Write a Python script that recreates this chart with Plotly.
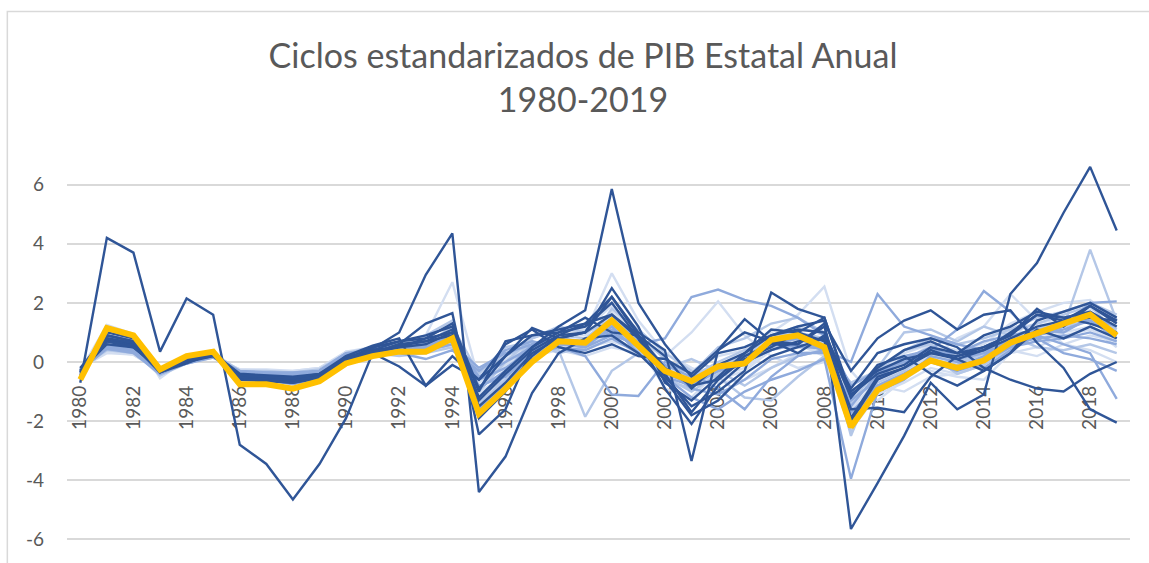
import plotly.graph_objects as go

years = list(range(1980, 2020))
x_tick_labels = [str(y) for y in range(1980, 2020, 2)]
y_tick_vals = [-6, -4, -2, 0, 2, 4, 6]
y_tick_text = ["-6", "-4", "-2", "0", "2", "4", "6"]

# national cycle (thick gold line)
nacional = [-0.6, 1.15, 0.9, -0.25, 0.2, 0.35, -0.75, -0.75, -0.9, -0.65,
            -0.05, 0.2, 0.35, 0.35, 0.8, -1.75, -0.9, 0.0, 0.7, 0.65,
            1.4, 0.55, -0.3, -0.65, -0.15, -0.05, 0.75, 0.9, 0.5, -2.2,
            -0.95, -0.5, 0.05, -0.2, 0.05, 0.65, 1.0, 1.3, 1.6, 0.9]

# state cycles
AGS = [-0.25, 0.5, 0.4, -0.2, 0.1, 0.25, -0.35, -0.35, -0.4, -0.3,
       0.25, 0.4, 0.5, 0.6, 1.1, -1.1, -0.4, 0.5, 0.9, 0.9,
       1.7, 1.0, -0.2, -0.7, -0.2, 0.3, 0.9, 1.2, 0.9, -1.9,
       -0.5, 0.0, 0.6, 0.4, 0.6, 1.3, 1.7, 2.0, 2.1, 1.3]
BC = [-0.4, 0.7, 0.55, -0.25, 0.1, 0.3, -0.45, -0.5, -0.55, -0.45,
      0.1, 0.35, 0.5, 0.6, 0.9, -1.3, -0.5, 0.4, 1.0, 1.1,
      1.9, 0.6, -0.9, -1.2, -0.3, 0.3, 0.9, 0.7, 0.2, -2.3,
      -1.1, -0.7, -0.2, -0.4, -0.1, 0.6, 1.0, 1.2, 1.6, 1.0]
BCS = [-0.3, 0.7, 0.6, -0.3, 0.0, 0.2, -0.5, -0.55, -0.6, -0.45,
       0.1, 0.5, 0.7, 0.9, 1.2, -1.0, 0.7, 0.9, 1.0, 1.5,
       1.0, 0.9, 0.2, -0.9, -0.1, 0.3, 0.9, 1.2, 1.4, -5.65,
       -4.1, -2.5, -0.7, -1.6, -1.1, 2.3, 3.35, 5.05, 6.6, 4.45]
CAMP = [-0.7, 4.2, 3.7, 0.35, 2.15, 1.6, -2.8, -3.45, -4.65, -3.45,
        -1.9, 0.3, -0.15, -0.8, -0.1, -0.6, 0.6, 1.1, 0.5, 0.3,
        0.6, 0.2, 0.1, -0.4, 0.4, 1.0, 0.7, 0.6, 1.3, -0.3,
        0.8, 1.4, 1.75, 1.1, 1.6, 1.75, 0.65, -0.2, -1.6, -2.05]
COAH = [-0.45, 0.9, 0.7, -0.35, 0.05, 0.3, -0.55, -0.5, -0.6, -0.5,
        0.1, 0.4, 0.7, 0.8, 1.3, -0.9, 0.2, 0.9, 1.1, 1.3,
        2.2, 0.9, -0.4, -1.7, -0.6, 0.2, 0.6, 0.6, 1.2, -1.9,
        -0.5, -0.2, 0.4, 0.1, -0.3, 0.3, 1.4, 1.7, 2.0, 1.5]
COL = [-0.35, 0.75, 0.55, -0.35, 0.0, 0.25, -0.5, -0.5, -0.55, -0.45,
       0.15, 0.4, 0.5, 0.8, 1.0, -1.3, -0.4, 0.4, 0.9, 1.3,
       1.6, 0.8, -0.5, -1.5, -1.0, -0.3, 2.35, 1.8, 1.5, -1.1,
       -0.4, -0.1, 0.5, 0.3, 0.9, 1.2, 1.7, 1.5, 1.3, 1.0]
CHIS = [-0.3, 0.6, 0.5, -0.2, 0.1, 0.3, -0.4, -0.45, -0.5, -0.4,
        0.2, 0.3, 0.6, 1.3, 1.65, -2.45, -1.6, 0.5, 1.2, 1.75,
        5.85, 2.0, 0.6, -0.5, 0.3, 0.5, 0.9, 1.1, 1.0, -1.0,
        -0.3, 0.1, 0.3, 0.2, 0.4, 0.8, 1.2, 1.4, 1.9, 1.4]
CHIH = [-0.35, 0.8, 0.65, -0.3, 0.1, 0.25, -0.5, -0.55, -0.6, -0.5,
        0.05, 0.35, 0.55, 0.7, 1.1, -1.2, -0.3, 0.5, 1.0, 1.2,
        2.0, 0.8, -0.9, -2.1, -0.8, 0.0, 0.4, 0.7, 0.8, -1.6,
        -1.55, -1.7, -0.5, 0.2, 0.5, 0.9, 1.8, 1.2, 1.9, 1.3]
CDMX = [-0.4, 0.9, 0.7, -0.25, 0.2, 0.35, -0.6, -0.6, -0.75, -0.55,
        0.0, 0.25, 0.35, 0.4, 0.8, -1.6, -0.9, 0.0, 0.6, 0.5,
        1.2, 0.3, -0.5, -0.8, -0.3, -0.1, 0.6, 0.8, 0.4, -2.0,
        -0.9, -0.5, 0.0, -0.3, 0.0, 0.5, 0.9, 1.1, 1.4, 0.8]
DGO = [-0.3, 0.5, 0.4, -0.35, 0.0, 0.2, -0.35, -0.35, -0.4, -0.3,
       0.2, 0.3, 0.4, 0.5, 0.8, -0.6, -0.1, 0.5, 0.6, 0.5,
       1.0, 0.5, -0.3, -0.3, 0.2, 0.4, 1.0, 1.6, 2.55, -0.3,
       -1.3, -0.6, 0.0, -0.1, 0.3, 1.2, 0.8, 1.0, 1.2, 0.5]
GTO = [-0.4, 0.8, 0.6, -0.3, 0.1, 0.3, -0.5, -0.5, -0.6, -0.45,
       0.1, 0.35, 0.5, 0.5, 0.9, -1.4, -0.6, 0.3, 0.9, 0.8,
       1.5, 0.7, -0.5, -1.0, -0.4, 0.2, 0.9, 1.0, 0.8, -1.8,
       -0.7, -0.3, 0.4, 0.1, 0.4, 1.0, 1.3, 1.6, 1.9, 1.0]
GRO = [-0.4, 0.8, 0.6, -0.3, 0.1, 0.35, -0.6, -0.65, -0.7, -0.5,
       0.2, 0.55, 0.8, -0.8, 0.2, -0.6, 0.2, 1.15, 0.8, 1.0,
       2.2, 1.0, 0.4, -3.35, 0.4, 1.45, 0.7, 0.3, 0.9, -1.2,
       -0.1, 0.2, -0.4, -0.8, -0.3, 0.3, 1.1, 0.8, 1.2, 0.8]
HGO = [-0.2, 0.3, 0.25, -0.3, 0.0, 0.15, -0.25, -0.25, -0.3, -0.2,
       0.35, 0.4, 0.5, 0.9, 2.7, -0.6, 0.1, 0.5, 0.8, 1.0,
       3.0, 1.4, 0.3, -0.2, -0.6, -0.3, 0.4, 0.7, 0.6, -1.2,
       -0.4, 0.3, 0.6, 0.2, 0.5, 1.1, 1.3, 1.5, 1.7, 1.2]
JAL = [-0.45, 0.9, 0.75, -0.3, 0.15, 0.35, -0.6, -0.6, -0.7, -0.55,
       0.0, 0.3, 0.4, 0.5, 1.0, -1.6, -0.9, 0.1, 0.6, 0.6,
       1.3, 0.4, -0.6, -0.9, -0.2, 0.2, 0.7, 0.9, 0.6, -2.0,
       -0.9, -0.4, 0.1, -0.1, 0.3, 0.8, 1.1, 1.4, 1.7, 1.1]
MEX = [-0.35, 0.85, 0.65, -0.3, 0.15, 0.3, -0.55, -0.55, -0.65, -0.5,
       0.05, 0.3, 0.4, 0.45, 0.9, -1.5, -0.8, 0.2, 0.7, 0.6,
       1.3, 0.5, -0.4, -0.7, -0.2, 0.0, 0.7, 0.9, 0.5, -2.1,
       -0.8, -0.4, 0.1, -0.2, 0.1, 0.7, 1.0, 1.3, 1.5, 0.9]
MICH = [-0.3, 0.45, 0.3, -0.4, -0.05, 0.2, -0.35, -0.4, -0.4, -0.3,
        0.3, 0.2, 0.3, 0.1, 0.4, -0.3, 0.4, 0.7, 0.5, 0.2,
        -1.1, -1.15, 0.0, -0.4, -0.9, -1.6, -0.5, 0.2, 0.4, -1.5,
        -0.4, 0.1, 0.5, 0.1, 0.3, 0.6, 0.8, 0.9, 0.8, 0.6]
MOR = [-0.3, 0.6, 0.4, -0.45, -0.05, 0.25, -0.4, -0.45, -0.5, -0.4,
       0.25, 0.3, 0.3, 0.6, 1.2, -0.4, 0.5, 0.7, 0.3, 0.5,
       1.8, 1.1, 0.3, -0.3, -0.5, -1.2, -1.3, -0.5, 0.2, -1.4,
       -0.2, 1.0, 1.1, 0.7, 1.2, 0.9, 0.5, 0.4, 0.6, 0.3]
NAY = [-0.3, 1.25, 0.95, -0.55, 0.1, 0.4, -0.5, -0.55, -0.6, -0.45,
       0.35, 0.5, 0.6, 0.7, 1.0, -1.0, -0.5, 0.2, 0.4, 0.2,
       0.5, 0.3, -0.1, -0.3, -0.7, -0.6, -0.2, 0.3, 0.4, -1.1,
       -0.8, -1.0, -0.5, -0.4, 0.0, 0.4, 0.2, 0.6, 0.9, 0.7]
NL = [-0.5, 1.0, 0.8, -0.3, 0.15, 0.3, -0.6, -0.6, -0.7, -0.55,
      0.0, 0.3, 0.5, 0.6, 1.0, -1.9, -1.0, 0.2, 0.9, 1.0,
      2.5, 1.2, -0.7, -1.3, -0.5, 0.3, 1.1, 1.0, 0.7, -2.0,
      -0.6, -0.2, 0.3, 0.1, 0.4, 1.0, 1.6, 1.5, 1.7, 1.2]
OAX = [-0.2, 0.4, 0.3, -0.35, 0.0, 0.2, -0.3, -0.3, -0.35, -0.25,
       0.3, 0.3, 0.2, 0.3, 0.5, -0.3, 0.2, 0.6, 0.4, -1.85,
       -0.3, 0.3, -0.2, 0.1, -0.3, -0.8, -0.2, 0.2, 0.4, -0.7,
       -0.3, 0.4, 0.6, 0.0, 0.3, 0.5, 0.9, 1.2, 3.8, 1.4]
PUE = [-0.35, 0.7, 0.5, -0.3, 0.05, 0.3, -0.45, -0.5, -0.55, -0.45,
       0.1, 0.35, 0.5, 0.6, 1.0, -1.0, 0.0, 0.8, 1.2, 1.0,
       1.4, 0.6, -0.3, -0.5, 0.0, 0.4, 0.5, 0.8, 0.5, -2.4,
       -0.5, 0.2, 0.2, -0.4, -0.1, 0.5, 0.9, 1.2, 1.4, 0.8]
QRO = [-0.3, 0.7, 0.5, -0.25, 0.05, 0.2, -0.45, -0.5, -0.55, -0.4,
       0.1, 0.3, 0.6, 0.7, 0.9, -1.5, -0.7, 0.3, 0.8, 1.0,
       1.6, 0.9, -0.2, -0.8, -0.6, 0.1, 0.5, 1.0, 1.5, -1.2,
       -0.2, 0.4, 0.7, 0.3, 0.5, 0.9, 1.6, 1.4, 1.5, 1.4]
QROO = [-0.2, 0.5, 0.35, -0.45, 0.0, 0.3, -0.3, -0.35, -0.4, -0.3,
        0.3, 0.5, 0.6, 0.9, 1.4, -1.7, -0.4, 0.8, 1.1, 1.3,
        1.6, 0.9, 0.1, -0.4, 0.5, 0.8, 1.3, 1.5, 1.0, -2.5,
        -0.3, 0.4, 0.8, 0.6, 0.8, 1.1, 1.5, 1.7, 2.0, 1.6]
SLP = [-0.35, 0.6, 0.45, -0.3, 0.05, 0.25, -0.4, -0.45, -0.5, -0.4,
       0.15, 0.3, 0.4, 0.5, 0.8, -1.2, -0.6, 0.3, 0.7, 0.7,
       1.2, 0.5, -0.4, -0.8, -0.4, 0.0, 0.6, 0.8, 0.6, -2.2,
       -0.8, -0.3, 0.2, 0.0, 0.2, 0.7, 1.1, 1.4, 1.8, 1.5]
SIN = [-0.25, 0.4, 0.3, -0.25, 0.05, 0.2, -0.3, -0.3, -0.35, -0.25,
       0.2, 0.25, 0.35, 0.4, 0.7, -0.7, -0.2, 0.4, 0.6, 0.6,
       0.9, 0.7, 0.2, 1.0, 2.05, 0.9, 0.2, -0.2, 0.0, -1.3,
       -0.1, 0.0, -0.3, -0.5, -0.6, 0.3, 0.5, 0.9, 1.1, 0.7]
SON = [-0.3, 0.5, 0.4, -0.3, 0.0, 0.2, -0.35, -0.4, -0.4, -0.3,
       0.3, 0.4, 0.5, 0.4, 0.6, -0.2, 0.3, 0.6, 0.8, 0.5,
       0.9, 0.6, 0.8, 2.2, 2.45, 2.1, 1.9, 1.5, 0.9, -0.8,
       -0.3, 0.0, 0.3, 0.3, 0.7, 0.9, 1.1, 1.0, 1.5, 1.2]
TAB = [-0.2, 0.9, 0.7, -0.35, -0.05, 0.3, -0.55, -0.6, -0.65, -0.5,
       0.1, 0.45, 1.0, 2.95, 4.35, -4.4, -3.2, -1.05, 0.3, 0.8,
       0.9, 0.3, -0.6, -1.8, -1.3, -0.4, 0.2, 0.5, 0.8, -0.9,
       0.3, 0.6, 0.8, 0.5, -0.2, -0.6, -0.9, -1.0, -0.4, 0.0]
TAMPS = [-0.25, 0.6, 0.45, -0.2, 0.05, 0.25, -0.4, -0.4, -0.45, -0.35,
         0.2, 0.35, 0.45, 0.5, 0.7, -0.6, -0.2, 0.4, 0.7, 0.6,
         1.1, 0.7, -0.1, -0.5, -0.3, 0.0, 0.4, 0.6, 0.4, 0.0,
         2.3, 1.2, 0.9, 0.6, 0.4, 0.5, 0.7, 0.8, 1.0, 0.7]
TLAX = [-0.2, 0.35, 0.25, -0.3, -0.05, 0.15, -0.25, -0.3, -0.3, -0.2,
        0.3, 0.3, 0.3, 0.4, 0.5, -0.5, 0.3, 0.4, 0.6, 0.5,
        0.7, 0.4, -0.2, -0.5, -0.5, -0.2, 0.5, 0.6, 0.2, -1.6,
        -0.6, -0.2, 0.1, 0.8, 1.2, 2.3, 1.4, 0.6, 0.4, 0.0]
VER = [-0.3, 0.55, 0.4, -0.25, 0.05, 0.2, -0.35, -0.35, -0.4, -0.3,
       0.25, 0.3, 0.4, 0.45, 0.8, -0.5, 0.0, 0.5, 0.6, 0.7,
       1.3, 0.8, -0.2, -0.9, -1.1, -0.6, 0.1, 0.3, 0.3, -1.3,
       -0.6, 0.2, 0.4, 1.1, 2.4, 1.7, 0.8, 0.3, 0.1, -0.3]
YUC = [-0.25, 0.5, 0.4, -0.2, 0.1, 0.25, -0.4, -0.4, -0.45, -0.35,
       0.15, 0.3, 0.4, 0.5, 0.9, -0.9, -0.3, 0.6, 0.8, 0.7,
       1.0, 0.5, -0.4, -0.7, -0.3, 0.2, 0.6, 0.5, 0.5, -1.7,
       -0.8, -0.4, 0.1, -0.2, 0.2, 0.8, 0.9, 0.6, 0.3, -1.25]
ZAC = [-0.2, 0.45, 0.35, -0.3, -0.05, 0.15, -0.3, -0.35, -0.35, -0.3,
       0.2, 0.25, 0.35, 0.4, 0.6, -0.8, -0.5, 0.3, 0.5, 0.4,
       0.8, 0.3, -0.5, -1.2, -1.6, -1.0, -0.6, -0.3, 0.1, -3.95,
       -1.0, -0.6, 0.2, 0.0, -0.2, 0.4, 0.9, 1.2, 2.0, 2.05]

DARK, MED, LIGHT, VLIGHT = "#2F5597", "#8FAADC", "#B4C7E7", "#D3DEF1"

# (name, values, colour) in drawing order
estados = [
    ("Hidalgo", HGO, VLIGHT), ("Sinaloa", SIN, VLIGHT), ("Durango", DGO, VLIGHT),
    ("Tlaxcala", TLAX, VLIGHT), ("Nayarit", NAY, VLIGHT), ("Aguascalientes", AGS, VLIGHT),
    ("San Luis Potosí", SLP, VLIGHT), ("Baja California", BC, VLIGHT),
    ("Oaxaca", OAX, LIGHT), ("Guanajuato", GTO, LIGHT), ("Jalisco", JAL, LIGHT),
    ("Morelos", MOR, LIGHT), ("Puebla", PUE, LIGHT), ("Quintana Roo", QROO, LIGHT),
    ("Sonora", SON, MED), ("Tamaulipas", TAMPS, MED), ("Veracruz", VER, MED),
    ("Zacatecas", ZAC, MED), ("Yucatán", YUC, MED), ("Michoacán", MICH, MED),
    ("Ciudad de México", CDMX, MED), ("México", MEX, MED),
    ("Campeche", CAMP, DARK), ("Baja California Sur", BCS, DARK), ("Tabasco", TAB, DARK),
    ("Chiapas", CHIS, DARK), ("Guerrero", GRO, DARK), ("Colima", COL, DARK),
    ("Nuevo León", NL, DARK), ("Coahuila", COAH, DARK), ("Chihuahua", CHIH, DARK),
    ("Querétaro", QRO, DARK),
]

fig = go.Figure()
for name, vals, col in estados:
    fig.add_trace(go.Scatter(x=years, y=vals, mode="lines", name=name,
                             line=dict(color=col, width=2.4)))
fig.add_trace(go.Scatter(x=years, y=nacional, mode="lines", name="Nacional",
                         line=dict(color="#FFC000", width=6)))

W, H = 1149, 563
L, R, T, B = 66.7, 18.7, 161.4, 0
pw, ph = W - L - R, H - T - B
FONT = "Lato, Carlito, sans-serif"

fig.update_layout(
    width=W, height=H,
    margin=dict(l=L, r=R, t=T, b=B),
    paper_bgcolor="white", plot_bgcolor="white",
    showlegend=False,
    font=dict(family=FONT, color="#595959"),
    title=dict(text="Ciclos estandarizados de PIB Estatal Anual<br>1980-2019",
               x=(583 - L) / pw, xanchor="center", xref="paper",
               y=1 - 68 / H, yanchor="top", yref="container",
               font=dict(size=34, color="#595959", family=FONT)),
    xaxis=dict(range=[1979.5, 2019.5], tickmode="array",
               tickvals=[int(t) for t in x_tick_labels], ticktext=x_tick_labels,
               tickangle=-90, showgrid=False, zeroline=False, showline=False,
               anchor="free", position=0.5, layer="below traces",
               ticks="", ticklabelstandoff=19,
               tickfont=dict(size=19, color="#595959")),
    yaxis=dict(range=[-6.8, 6.8], tickmode="array",
               tickvals=y_tick_vals, ticktext=y_tick_text,
               showgrid=True, gridcolor="#D9D9D9", gridwidth=1.5,
               zeroline=False, showline=False, ticks="",
               ticklabelstandoff=22,
               tickfont=dict(size=19, color="#595959")),
    shapes=[dict(type="rect", xref="paper", yref="paper",
                 x0=(7 - L) / pw, x1=(W + 20 - L) / pw,
                 y0=-0.1, y1=(H - B - 12) / ph,
                 line=dict(color="#D9D9D9", width=1.5), fillcolor="rgba(0,0,0,0)",
                 layer="below")],
)

fig.write_html("out.html", config={"displayModeBar": False},
               post_script="document.body.style.margin='0';")
